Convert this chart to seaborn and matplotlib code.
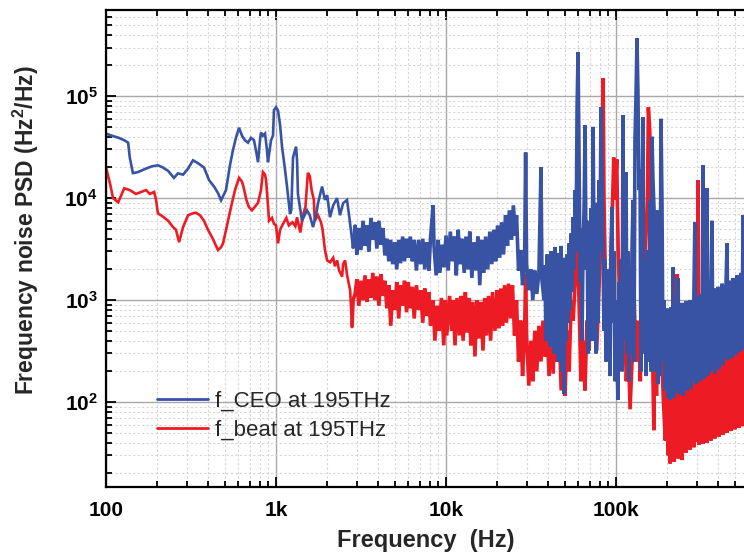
import numpy as np
import pandas as pd
import seaborn as sns
import matplotlib
matplotlib.use("Agg")
import matplotlib.pyplot as plt
from matplotlib.ticker import FixedLocator, NullFormatter, LogLocator

# (frequency Hz, PSD Hz^2/Hz)
ceo_points = [
    (100, 4.3e4), (108, 4.1e4), (119, 3.9e4), (128, 3.7e4), (135, 3.5e4), (138, 2.5e4),
    (144, 1.76e4), (154, 1.8e4), (172, 1.95e4), (186, 2.05e4), (202, 2.1e4), (216, 2.0e4),
    (232, 1.85e4), (251, 1.58e4), (265, 1.75e4), (284, 1.7e4), (304, 1.95e4), (325, 2.35e4),
    (348, 2.2e4), (377, 2.0e4), (404, 1.5e4), (432, 1.3e4), (456, 1.12e4), (475, 9.5e3),
    (508, 1.2e4), (536, 2.1e4), (558, 2.95e4), (581, 3.9e4), (606, 4.9e4), (631, 4.1e4),
    (656, 3.7e4), (684, 3.5e4), (712, 3.9e4), (742, 3.7e4), (762, 2.95e4), (784, 2.25e4),
    (805, 3.7e4), (816, 4.4e4), (838, 4.1e4), (862, 4.3e4), (885, 2.95e4), (897, 2.25e4),
    (921, 3.1e4), (935, 3.7e4), (960, 4.1e4), (973, 7.3e4), (1000, 7.8e4), (1028, 7.2e4),
    (1057, 5.2e4), (1085, 3.2e4), (1130, 1.9e4), (1161, 1.3e4), (1209, 7e3), (1230, 7.6e3),
    (1259, 2.5e4), (1312, 3.2e4), (1330, 2.35e4), (1346, 1.1e4), (1422, 6e3), (1521, 7.6e3),
    (1580, 6.8e3), (1651, 5.2e3), (1720, 6.8e3), (1766, 8.9e3), (1866, 1.3e4), (1941, 9.6e3),
    (2000, 1.07e4), (2078, 6.5e3), (2170, 8.5e3), (2286, 1.0e4), (2380, 6.8e3), (2480, 8.9e3),
    (2617, 9.6e3), (2690, 6.8e3), (2838, 3.3e3),
    (2920, 5.4e3), (2990, 2.8e3), (3070, 5.1e3), (3160, 3.1e3), (3250, 6.0e3), (3340, 3.4e3),
    (3430, 5.4e3), (3520, 3.0e3), (3620, 6.4e3), (3710, 3.9e3), (3820, 5.8e3), (3920, 3.2e3),
    (4030, 6.0e3), (4140, 3.5e3), (4250, 5.1e3), (4370, 2.75e3), (4490, 4.0e3), (4610, 2.4e3),
    (4730, 3.9e3), (4860, 2.25e3), (5000, 3.7e3), (5130, 2.0e3), (5270, 3.9e3), (5400, 2.3e3),
    (5560, 4.2e3), (5700, 2.4e3), (5860, 4.0e3), (6000, 2.6e3), (6170, 4.2e3), (6340, 2.4e3),
    (6500, 3.9e3), (6700, 1.95e3), (6900, 3.9e3), (7100, 2.25e3), (7300, 4.0e3), (7500, 2.0e3),
    (7700, 3.7e3), (7940, 1.95e3), (8100, 4.0e3), (8400, 8.5e3), (8500, 3.4e3), (8750, 1.75e3),
    (9000, 3.9e3), (9200, 1.85e3), (9500, 3.5e3), (9750, 2.1e3),
    (1.0e4, 4.3e3), (1.03e4, 1.95e3), (1.06e4, 4.7e3), (1.09e4, 2.4e3), (1.12e4, 4.2e3),
    (1.15e4, 1.75e3), (1.18e4, 4.9e3), (1.21e4, 2.25e3), (1.24e4, 4.0e3), (1.28e4, 1.85e3),
    (1.31e4, 4.2e3), (1.35e4, 2.0e3), (1.38e4, 4.7e3), (1.42e4, 1.65e3), (1.46e4, 3.7e3),
    (1.50e4, 1.95e3), (1.54e4, 4.2e3), (1.58e4, 1.4e3), (1.62e4, 3.9e3), (1.67e4, 1.85e3),
    (1.71e4, 4.2e3), (1.76e4, 2.0e3), (1.81e4, 4.7e3), (1.86e4, 2.25e3), (1.91e4, 4.9e3),
    (1.96e4, 2.4e3), (2.01e4, 5.4e3), (2.07e4, 2.6e3), (2.12e4, 5.8e3), (2.18e4, 2.8e3),
    (2.24e4, 6.8e3), (2.30e4, 3.4e3), (2.36e4, 7.6e3), (2.43e4, 3.9e3), (2.49e4, 8.5e3),
    (2.56e4, 4.3e3), (2.60e4, 6.8e3), (2.67e4, 1.95e3), (2.75e4, 3.1e3), (2.82e4, 1.4e3),
    (2.90e4, 2.4e3), (2.94e4, 2.8e4), (2.98e4, 2.25e3), (3.07e4, 1.25e3), (3.16e4, 2.0e3),
    (3.24e4, 1.0e3), (3.33e4, 1.95e3), (3.42e4, 1.15e3), (3.52e4, 1.85e3), (3.62e4, 2.0e4),
    (3.67e4, 1.55e3), (3.77e4, 1.0e3),
    (3.82e4, 2.2e3), (3.87e4, 4.0e2), (3.93e4, 2.8e3), (3.98e4, 5.0e2), (4.04e4, 2.4e3),
    (4.09e4, 3.5e2), (4.15e4, 3.0e3), (4.20e4, 6.0e2), (4.26e4, 2.6e3), (4.32e4, 3.0e2),
    (4.38e4, 3.3e3), (4.44e4, 4.5e2), (4.50e4, 2.3e3), (4.56e4, 2.5e2), (4.62e4, 2.9e3),
    (4.69e4, 5.0e2), (4.75e4, 3.4e3), (4.82e4, 2.0e2), (4.88e4, 2.6e3), (4.95e4, 1.2e2),
    (5.01e4, 2.2e3), (5.08e4, 4.0e2), (5.15e4, 2.8e3), (5.22e4, 6.0e2), (5.30e4, 3.6e3),
    (5.37e4, 8.0e2), (5.44e4, 4.5e3), (5.52e4, 1.2e3), (5.59e4, 6.5e3), (5.67e4, 2.0e3),
    (5.75e4, 1.2e4), (5.82e4, 3.0e3), (5.90e4, 7.3e4), (5.98e4, 2.7e5), (6.07e4, 2.0e4),
    (6.15e4, 1.5e3), (6.23e4, 5.0e3), (6.31e4, 4.0e2), (6.40e4, 3.0e3), (6.49e4, 8.0e3),
    (6.58e4, 5.2e4), (6.67e4, 2.0e3), (6.76e4, 6.0e3), (6.85e4, 3.0e2), (6.94e4, 4.0e3),
    (7.04e4, 1.5e3), (7.13e4, 8.0e3), (7.23e4, 4.0e2), (7.33e4, 5.0e4), (7.43e4, 3.0e3),
    (7.53e4, 9.0e3), (7.63e4, 3.0e2), (7.73e4, 4.0e3), (7.84e4, 6.0e2), (7.94e4, 1.5e4),
    (8.05e4, 3.0e3), (8.16e4, 7.8e4), (8.27e4, 1.5e4), (8.38e4, 3.0e3), (8.50e4, 5.0e2),
    (8.61e4, 2.5e3), (8.73e4, 2.5e2), (8.85e4, 1.5e3), (8.97e4, 3.5e2), (9.09e4, 2.0e3),
    (9.22e4, 1.8e2), (9.34e4, 3.0e3), (9.47e4, 8.2e3), (9.60e4, 6.0e2), (9.73e4, 3.0e3),
    (9.86e4, 1.6e2), (1.000e5, 1.0e3), (1.014e5, 2.5e2), (1.027e5, 1.05e2), (1.041e5, 1.5e3),
    (1.056e5, 3.0e2), (1.070e5, 2.5e3), (1.085e5, 2.0e2), (1.099e5, 6.5e4), (1.114e5, 4.0e2),
    (1.130e5, 8.0e3), (1.145e5, 1.8e4), (1.161e5, 3.0e2), (1.176e5, 3.0e3), (1.193e5, 1.6e2),
    (1.209e5, 2.0e3), (1.225e5, 3.0e2), (1.242e5, 3.1e3), (1.259e5, 9.6e3), (1.276e5, 2.5e2),
    (1.293e5, 3.7e4), (1.311e5, 1.0e5), (1.329e5, 3.7e5), (1.347e5, 1.0e5), (1.365e5, 1.2e4),
    (1.384e5, 1.9e4), (1.403e5, 2.0e2), (1.422e5, 4.0e3), (1.441e5, 6.2e4), (1.461e5, 3.0e2),
    (1.481e5, 2.5e3), (1.501e5, 1.8e2), (1.521e5, 2.0e3), (1.542e5, 3.1e3), (1.563e5, 2.5e2),
    (1.585e5, 9.6e3), (1.606e5, 2.0e2), (1.628e5, 4.0e4), (1.650e5, 1.5e4), (1.673e5, 8.0e3),
    (1.696e5, 2.0e2), (1.719e5, 3.0e3), (1.742e5, 7.6e3), (1.766e5, 1.5e2), (1.790e5, 4.9e3),
    (1.814e5, 1.8e2), (1.839e5, 6.0e4), (1.864e5, 9.6e3), (1.890e5, 2.5e2), (1.915e5, 1.0e3),
    (1.941e5, 1.3e2), (1.968e5, 8.0e2),
    (2.00e5, 8.0e2), (2.03e5, 1.1e2), (2.05e5, 7.5e2), (2.08e5, 1.05e2), (2.11e5, 8.5e2),
    (2.14e5, 1.25e2), (2.17e5, 2.1e3), (2.20e5, 1.1e2), (2.23e5, 8.2e2), (2.26e5, 1.3e2),
    (2.29e5, 9.0e2), (2.32e5, 1.65e3), (2.35e5, 1.2e2), (2.38e5, 8.4e2), (2.41e5, 1.35e2),
    (2.45e5, 9.4e2), (2.48e5, 1.15e2), (2.51e5, 8.6e2), (2.55e5, 1.4e2), (2.58e5, 9.8e2),
    (2.62e5, 1.3e2), (2.65e5, 9.0e2), (2.69e5, 1.5e2), (2.72e5, 1.0e3), (2.76e5, 1.35e2),
    (2.80e5, 9.6e2), (2.84e5, 1.6e2), (2.87e5, 1.05e3), (2.91e5, 5.8e3), (2.95e5, 1.5e2),
    (2.99e5, 1.1e3), (3.04e5, 1.7e2), (3.08e5, 1.02e3), (3.12e5, 1.6e2), (3.16e5, 1.15e3),
    (3.20e5, 1.8e2), (3.25e5, 2.1e4), (3.29e5, 1.7e2), (3.34e5, 1.1e3), (3.38e5, 1.9e2),
    (3.43e5, 1.25e4), (3.48e5, 1.8e2), (3.52e5, 1.2e3), (3.57e5, 2.0e2), (3.62e5, 1.15e3),
    (3.67e5, 6.0e3), (3.72e5, 2.1e2), (3.77e5, 1.3e3), (3.82e5, 1.9e2), (3.88e5, 1.25e3),
    (3.93e5, 2.3e2), (3.98e5, 1.35e3), (4.04e5, 2.1e2), (4.09e5, 1.3e3), (4.15e5, 2.5e2),
    (4.21e5, 1.45e3), (4.26e5, 2.3e2), (4.32e5, 1.4e3), (4.38e5, 2.7e2), (4.44e5, 1.5e3),
    (4.50e5, 3.6e3), (4.56e5, 2.6e2), (4.63e5, 1.55e3), (4.69e5, 2.9e2), (4.75e5, 1.5e3),
    (4.82e5, 2.7e2), (4.88e5, 1.65e3), (4.95e5, 3.1e2), (5.01e5, 1.6e3), (5.08e5, 2.9e2),
    (5.15e5, 1.75e3), (5.22e5, 3.3e2), (5.29e5, 1.7e3), (5.37e5, 3.1e2), (5.44e5, 1.85e3),
    (5.51e5, 3.5e2), (5.59e5, 6.8e3), (5.66e5, 3.3e2), (5.74e5, 1.9e3), (5.82e5, 3.6e2),
]

beat_points = [
    (100, 2.0e4), (106, 1.35e4), (110, 1.0e4), (118, 9.1e3), (123, 1.07e4), (128, 1.25e4),
    (138, 1.2e4), (150, 1.1e4), (161, 1.15e4), (172, 1.2e4), (181, 1.1e4), (192, 1.15e4),
    (197, 9.6e3), (202, 7.1e3), (216, 6.6e3), (232, 6.0e3), (248, 5.2e3), (258, 4.9e3),
    (269, 3.7e3), (284, 5.2e3), (304, 6.8e3), (325, 7.1e3), (338, 7.2e3), (357, 6.8e3),
    (377, 6.0e3), (398, 4.9e3), (425, 4.0e3), (444, 3.4e3), (456, 3.1e3), (475, 3.3e3),
    (488, 3.6e3), (515, 5.4e3), (544, 8.2e3), (574, 1.2e4), (606, 1.58e4), (631, 1.45e4),
    (643, 1.3e4), (670, 9.6e3), (692, 8.2e3), (722, 7.6e3), (763, 8.5e3), (784, 9e3),
    (816, 1.2e4), (838, 1.8e4), (862, 1.7e4), (874, 1.5e4), (897, 8.5e3), (910, 6e3),
    (947, 6.4e3), (973, 5.6e3), (1000, 5.4e3), (1028, 3.6e3), (1057, 4.9e3), (1100, 5.6e3),
    (1150, 6.4e3), (1190, 5.4e3), (1250, 5.8e3), (1300, 5.3e3), (1330, 6.5e3), (1390, 4.6e3),
    (1440, 6.8e3), (1490, 8.2e3), (1540, 1.77e4), (1580, 1.65e4), (1620, 1.2e4), (1670, 9.6e3),
    (1690, 6e3), (1766, 6.8e3), (1840, 5.8e3), (1880, 4.9e3), (1941, 3.1e3), (2000, 2.45e3),
    (2080, 2.35e3), (2170, 2.6e3), (2220, 2.15e3), (2290, 2.45e3), (2350, 1.95e3),
    (2450, 1.7e3), (2480, 2.25e3), (2550, 2.45e3), (2620, 1.75e3), (2730, 1.25e3),
    (2800, 5.5e2), (2840, 1e3), (2920, 1.15e3),
    (2990, 1.6e3), (3070, 8.8e2), (3160, 1.55e3), (3250, 1e3), (3340, 1.75e3), (3430, 9.6e2),
    (3520, 1.6e3), (3620, 1.05e3), (3710, 1.85e3), (3820, 1e3), (3920, 1.7e3), (4030, 8.8e2),
    (4140, 1.8e3), (4250, 1.1e3), (4370, 1.55e3), (4490, 8.3e2), (4610, 1.4e3), (4730, 5.6e2),
    (4860, 1.25e3), (5000, 8e2), (5130, 1.5e3), (5270, 6.6e2), (5400, 1.4e3), (5560, 8.8e2),
    (5700, 1.55e3), (5860, 7.6e2), (6000, 1.5e3), (6170, 8.3e2), (6340, 1.35e3), (6500, 6.6e2),
    (6700, 1.4e3), (6900, 8e2), (7100, 1.25e3), (7300, 6e2), (7500, 1.3e3), (7700, 7e2),
    (7940, 1.2e3), (8100, 5.6e2), (8400, 1e3), (8600, 4e2), (8900, 8.8e2), (9100, 5e2),
    (9400, 1.05e3), (9700, 3.6e2), (9900, 1e3),
    (1.01e4, 4.5e2), (1.05e4, 1.1e3), (1.08e4, 5e2), (1.1e4, 1e3), (1.13e4, 3.6e2),
    (1.16e4, 1.05e3), (1.2e4, 4.5e2), (1.23e4, 1.1e3), (1.26e4, 4e2), (1.3e4, 1.2e3),
    (1.33e4, 4.8e2), (1.37e4, 1.05e3), (1.4e4, 3.6e2), (1.44e4, 9.6e2), (1.48e4, 2.8e2),
    (1.52e4, 1e3), (1.56e4, 4.2e2), (1.6e4, 9.6e2), (1.65e4, 3.2e2), (1.69e4, 1.05e3),
    (1.73e4, 4.5e2), (1.78e4, 1.1e3), (1.83e4, 4e2), (1.88e4, 1.2e3), (1.94e4, 5e2),
    (2.0e4, 1.25e3), (2.04e4, 5.3e2), (2.1e4, 1.3e3), (2.15e4, 5.6e2), (2.21e4, 1.4e3),
    (2.27e4, 6e2), (2.33e4, 1.45e3), (2.4e4, 6.6e2), (2.46e4, 1.4e3), (2.53e4, 4.5e2),
    (2.6e4, 1e3), (2.67e4, 2.5e2), (2.75e4, 6.3e2), (2.82e4, 1.8e2), (2.9e4, 5e2),
    (2.94e4, 1.8e3), (2.98e4, 4.5e2), (3.07e4, 1.45e2), (3.16e4, 4e2), (3.24e4, 1.6e2),
    (3.33e4, 5e2), (3.42e4, 2e2), (3.52e4, 5.6e2), (3.62e4, 2.5e2), (3.72e4, 6.3e2),
    (3.82e4, 2.8e2), (3.93e4, 5e2), (4.04e4, 1.8e2), (4.15e4, 6.3e2), (4.27e4, 1.9e2),
    (4.39e4, 8e2), (4.51e4, 2.5e2), (4.63e4, 5e2), (4.76e4, 1.3e2), (4.89e4, 6.3e2),
    (5.01e4, 1.15e2), (5.15e4, 5e2), (5.3e4, 2e2), (5.45e4, 1e3), (5.6e4, 6.3e2),
    (5.75e4, 1.55e3), (5.9e4, 4.2e3), (6.06e4, 1e3), (6.22e4, 1.6e2), (6.4e4, 4e2),
    (6.57e4, 1.3e2), (6.75e4, 6.3e2), (6.93e4, 3.2e2), (7.1e4, 1.25e3), (7.3e4, 4e2),
    (7.5e4, 1e3), (7.7e4, 3.2e2), (7.94e4, 1.25e3), (8.1e4, 3.1e3), (8.4e4, 1.5e5),
    (8.5e4, 9.6e3), (8.75e4, 6.3e2), (8.95e4, 2.5e2), (9.2e4, 1e3), (9.45e4, 4.9e3),
    (9.7e4, 2.5e4), (9.85e4, 9.6e3), (1.01e5, 2.4e4), (1.03e5, 3.1e3), (1.06e5, 6.3e2),
    (1.09e5, 2.5e2), (1.12e5, 8e2), (1.15e5, 1.6e2), (1.18e5, 4e2), (1.21e5, 8.5e1),
    (1.25e5, 3.2e2), (1.28e5, 1e3), (1.31e5, 2.5e2), (1.35e5, 6.3e2), (1.39e5, 1.6e2),
    (1.42e5, 1e3), (1.46e5, 4e2), (1.49e5, 3.1e3), (1.53e5, 9.6e3), (1.55e5, 7.8e4),
    (1.58e5, 4.6e4), (1.6e5, 9.6e3), (1.62e5, 1e3), (1.65e5, 1.6e2), (1.67e5, 5.3e1),
    (1.69e5, 5e2), (1.73e5, 1.15e2), (1.77e5, 4e2), (1.82e5, 1e3), (1.86e5, 2.5e2),
    (1.9e5, 1.05e2), (1.95e5, 4.2e1),
    (2.00e5, 2.0e2), (2.03e5, 3.0e1), (2.05e5, 1.9e2), (2.08e5, 2.5e1), (2.11e5, 2.1e2),
    (2.14e5, 3.2e1), (2.17e5, 1.9e2), (2.20e5, 2.6e1), (2.23e5, 2.2e2), (2.26e5, 3.4e1),
    (2.29e5, 1.8e3), (2.32e5, 2.8e1), (2.35e5, 2.1e2), (2.38e5, 3.5e1), (2.41e5, 2.3e2),
    (2.45e5, 2.7e1), (2.48e5, 2.2e2), (2.51e5, 3.6e1), (2.55e5, 2.4e2), (2.58e5, 3.2e1),
    (2.62e5, 2.2e2), (2.65e5, 3.8e1), (2.69e5, 2.5e2), (2.72e5, 3.4e1), (2.76e5, 2.3e2),
    (2.80e5, 4.0e1), (2.84e5, 2.6e2), (2.87e5, 3.6e1), (2.91e5, 2.4e2), (2.95e5, 4.1e1),
    (2.99e5, 2.6e2), (3.04e5, 1.5e4), (3.08e5, 3.8e1), (3.12e5, 2.5e2), (3.16e5, 4.2e1),
    (3.20e5, 2.7e2), (3.25e5, 3.9e1), (3.29e5, 2.6e2), (3.34e5, 4.4e1), (3.38e5, 2.8e2),
    (3.43e5, 4.0e1), (3.48e5, 2.7e2), (3.52e5, 4.6e1), (3.57e5, 2.9e2), (3.62e5, 4.2e1),
    (3.67e5, 2.8e2), (3.72e5, 4.8e1), (3.77e5, 3.0e2), (3.82e5, 4.4e1), (3.88e5, 2.9e2),
    (3.93e5, 5.0e1), (3.98e5, 3.1e2), (4.04e5, 4.6e1), (4.09e5, 3.0e2), (4.15e5, 5.2e1),
    (4.21e5, 3.2e2), (4.26e5, 4.8e1), (4.32e5, 3.1e2), (4.38e5, 5.4e1), (4.44e5, 3.3e2),
    (4.50e5, 5.0e1), (4.56e5, 3.2e2), (4.63e5, 5.6e1), (4.69e5, 3.4e2), (4.75e5, 5.2e1),
    (4.82e5, 3.3e2), (4.88e5, 5.8e1), (4.95e5, 3.5e2), (5.01e5, 5.4e1), (5.08e5, 3.4e2),
    (5.15e5, 6.0e1), (5.22e5, 3.6e2), (5.29e5, 5.6e1), (5.37e5, 3.5e2), (5.44e5, 6.2e1),
    (5.51e5, 3.7e2), (5.59e5, 5.8e1), (5.66e5, 3.6e2), (5.74e5, 6.0e1),
]

series_names = ["f_CEO at 195THz", "f_beat at 195THz"]
series_colors = ["#3953a4", "#ed1c24"]
noise_start = 2800  # above this the traces are a dense noise band
x_ticks = [100, 1e3, 1e4, 1e5]
x_ticklabels = ["100", "1k", "10k", "100k"]
y_ticks = [1e2, 1e3, 1e4, 1e5]
y_ticklabels = [r"$\mathbf{10^{2}}$", r"$\mathbf{10^{3}}$", r"$\mathbf{10^{4}}$", r"$\mathbf{10^{5}}$"]

frames = []
for name, pts in zip(series_names, [ceo_points, beat_points]):
    f, p = zip(*pts)
    frames.append(pd.DataFrame({"freq": f, "psd": p, "series": name}))
df = pd.concat(frames, ignore_index=True)
palette = dict(zip(series_names, series_colors))
draw_order = series_names[::-1]  # red underneath, blue on top

sns.set_style("white")
plt.rcParams["font.family"] = ["Liberation Sans", "DejaVu Sans"]
plt.rcParams["mathtext.fontset"] = "custom"
plt.rcParams["mathtext.bf"] = "Liberation Sans:bold"
plt.rcParams["mathtext.rm"] = "Liberation Sans"

fig = plt.figure(figsize=(7.44, 5.57), dpi=100)
ax = fig.add_axes([106 / 744, 70 / 557, 680 / 744, 477 / 557])

# smooth low-frequency part and dense noisy part (overlap by one point)
low = df[df["freq"] <= 2920]
high = df[df["freq"] >= noise_start]
sns.lineplot(data=low, x="freq", y="psd", hue="series", hue_order=draw_order,
             palette=palette, estimator=None, sort=False, linewidth=1.9, ax=ax,
             legend=False)
sns.lineplot(data=high, x="freq", y="psd", hue="series", hue_order=draw_order,
             palette=palette, estimator=None, sort=False, linewidth=2.6, ax=ax,
             legend=False)
for ln in ax.lines:
    ln.set_solid_joinstyle("miter")

ax.set_xscale("log")
ax.set_yscale("log")
ax.set_xlim(100, 1e6)
ax.set_ylim(14.7, 7e5)

ax.xaxis.set_major_locator(FixedLocator(x_ticks + [1e6]))
ax.set_xticklabels(x_ticklabels + [""])
ax.xaxis.set_minor_locator(LogLocator(base=10, subs=np.arange(2, 10)))
ax.xaxis.set_minor_formatter(NullFormatter())
ax.yaxis.set_major_locator(FixedLocator(y_ticks))
ax.set_yticklabels(y_ticklabels)
ax.yaxis.set_minor_locator(LogLocator(base=10, subs=np.arange(2, 10)))
ax.yaxis.set_minor_formatter(NullFormatter())

ax.tick_params(which="both", direction="in", top=True, bottom=True, left=True, right=False,
               width=1.3, colors="black")
ax.tick_params(which="major", length=7)
ax.tick_params(which="minor", length=4)
ax.tick_params(axis="x", which="major", pad=10, labelsize=15)
ax.tick_params(axis="y", which="major", pad=6, labelsize=15)
for lab in ax.get_xticklabels():
    lab.set_fontweight("bold")

ax.grid(which="major", color="#a8a8a8", linewidth=1.0, linestyle="-")
ax.grid(which="minor", color="#d6d6d6", linewidth=0.8, linestyle=(0, (2, 2)))
ax.set_axisbelow(True)
for side in ["left", "bottom", "top"]:
    ax.spines[side].set_linewidth(1.6)
    ax.spines[side].set_color("black")
ax.spines["right"].set_visible(False)

ax.set_xlabel("")
ax.set_ylabel("")
fig.text(426 / 744, 1 - 540 / 557, "Frequency  (Hz)", ha="center", va="center",
         fontsize=17, fontweight="bold")
fig.text(26 / 744, 1 - 230 / 557, "Frequency noise PSD (Hz$^\\mathbf{2}$/Hz)", ha="center",
         va="center", rotation=90, fontsize=16.5, fontweight="bold")

handles = [plt.Line2D([], [], color=c, linewidth=2.0) for c in series_colors]
ax.legend(handles, series_names, loc="upper left", bbox_to_anchor=(157 / 744, 1 - 391 / 557),
          bbox_transform=fig.transFigure, frameon=False, fontsize=16, borderpad=0,
          borderaxespad=0, handlelength=2.3, handletextpad=0.3, labelspacing=0.35)

fig.savefig("out.png", dpi=100, facecolor="white")
